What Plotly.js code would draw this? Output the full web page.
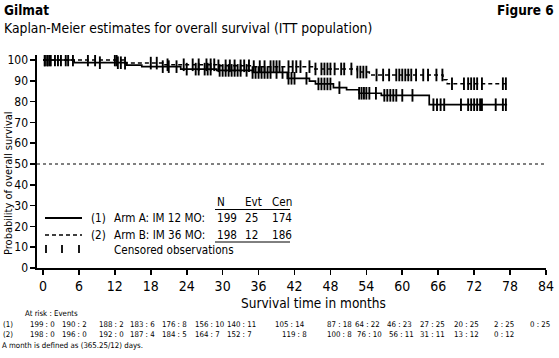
<!DOCTYPE html>
<html>
<head>
<meta charset="utf-8">
<script src="https://cdn.plot.ly/plotly-3.0.1.min.js"></script>
<style>
  html, body { margin: 0; padding: 0; background: #fff; }
  #chart { width: 559px; height: 358px; }
</style>
</head>
<body>
<div id="chart"></div>
<script>
// ---- Data ----
const armA_time = [0, 5.2, 14, 16.5, 23, 29, 35, 40.8, 44.5, 45.5, 48.5, 50.7, 52.8, 56.5, 64.5, 77.5];
const armA_surv = [100, 98.7, 97.5, 96.8, 95.6, 95, 94, 91.2, 89.8, 88.5, 86.7, 85.7, 84, 83, 78.5, 78.5];
const armB_time = [0, 13.5, 20, 29, 35, 45, 52.5, 54.5, 66.8, 67.5, 77.5];
const armB_surv = [100, 98.5, 97.7, 97.2, 96.8, 95.7, 94.2, 92.8, 90.5, 88.6, 88.6];

const armA_censor = [0.3, 0.7, 1.1, 2.5, 3.8, 5, 9.5, 12.5, 13, 20, 21, 22.3, 24, 25.5, 26, 27, 27.5, 28,
  29.5, 30, 30.5, 31, 31.5, 32, 32.5, 33, 34, 35, 35.5, 36, 36.5, 37, 37.5, 38, 39, 40, 41, 41.5, 42, 44,
  46, 46.5, 47, 47.5, 48, 49.5, 52.8, 53.2, 53.6, 54, 54.5, 55.6, 57, 57.5, 58, 58.5, 59, 60, 61.7,
  65.2, 65.8, 66.4, 67, 69.8, 71, 71.5, 72, 72.5, 73, 73.3, 75.6, 76.8, 77.3];
const armB_censor = [0.3, 0.8, 1.3, 2, 3, 4.2, 7.5, 8.7, 12, 12.3, 13.7, 18, 19, 20.8, 23.5, 25, 26, 27.3,
  28, 28.6, 29.3, 30.5, 31.2, 32, 33, 33.6, 34.4, 35.2, 36.2, 37, 38, 38.5, 39, 39.5, 41, 41.7, 42.3, 43,
  44.5, 45.5, 46.5, 47, 47.5, 48, 48.7, 49.8, 50.3, 51.5, 52.5, 53, 53.5, 54, 55.7, 56.8, 57.8, 59, 59.5,
  60, 60.5, 61, 61.5, 62.3, 63.5, 64.3, 65.7, 66.7, 68.3, 70.3, 71, 71.5, 72, 72.5, 73.3, 76.8, 77.3];

const xTicks = [0, 6, 12, 18, 24, 30, 36, 42, 48, 54, 60, 66, 72, 78, 84];
const yTicks = [0, 10, 20, 30, 40, 50, 60, 70, 80, 90, 100];
const refLine = 50;

const legendLabels = ["Arm A: IM 12 MO:", "Arm B: IM 36 MO:"];
const legendN = [199, 198];
const legendEvt = [25, 12];
const legendCen = [174, 186];

const atRiskA = [199, 190, 188, 183, 176, 156, 140, 105, 87, 64, 46, 27, 20, 2, 0];
const eventsA = [0, 2, 2, 6, 8, 10, 11, 14, 18, 22, 23, 25, 25, 25, 25];
const atRiskB = [198, 196, 192, 187, 184, 164, 152, 119, 100, 76, 56, 31, 13, 0];
const eventsB = [0, 0, 0, 4, 5, 7, 7, 8, 8, 10, 11, 11, 12, 12];

// ---- Layout helpers ----
const FONT = '"DejaVu Sans Condensed", "DejaVu Sans", sans-serif';
const W = 559, H = 358;
const M = { l: 37, r: 13, t: 55, b: 90 };
const PW = W - M.l - M.r, PH = H - M.t - M.b;
const px = x => (x - M.l) / PW;
const py = y => (M.t + PH - y) / PH;

function stepValue(times, surv, t) {
  let v = surv[0];
  for (let i = 0; i < times.length; i++) { if (times[i] <= t) v = surv[i]; }
  return v;
}

const censorMarker = { symbol: 'line-ns-open', size: 9, color: '#000', line: { color: '#000', width: 1.9 } };
const traces = [
  { x: armA_time, y: armA_surv, mode: 'lines', line: { shape: 'hv', color: '#000', width: 1.7 }, hoverinfo: 'skip' },
  { x: armB_time, y: armB_surv, mode: 'lines', line: { shape: 'hv', color: '#000', width: 1.5, dash: '4px,3px' }, hoverinfo: 'skip' },
  { x: armA_censor, y: armA_censor.map(t => stepValue(armA_time, armA_surv, t)), mode: 'markers', marker: censorMarker, hoverinfo: 'skip' },
  { x: armB_censor, y: armB_censor.map(t => stepValue(armB_time, armB_surv, t)), mode: 'markers', marker: censorMarker, hoverinfo: 'skip' }
];

const ann = [];
const shapes = [];
function text(x, y, t, size, opts) {
  ann.push(Object.assign({ xref: 'paper', yref: 'paper', x: px(x), y: py(y), text: t, showarrow: false,
    xanchor: 'left', yanchor: 'middle', font: { family: FONT, size: size, color: '#000' } }, opts || {}));
}

// Titles
text(2, 10, '<b>Gilmat</b>', 13.5);
text(556, 10, '<b>Figure 6</b>', 13.5, { xanchor: 'right' });
text(2, 28, 'Kaplan-Meier estimates for overall survival (ITT population)', 13.8);
// Axis titles
text(313, 303, 'Survival time in months', 13.5, { xanchor: 'center' });
text(8, 183, 'Probability of overall survival', 11, { xanchor: 'center', textangle: -90 });

// Reference line at 50%
shapes.push({ type: 'line', xref: 'paper', yref: 'y', x0: 0, x1: 1, y0: refLine, y1: refLine,
  line: { color: '#000', width: 1, dash: 'dot' } });

// Legend block
const LF = 11.6;
const legY = [218, 235];
shapes.push({ type: 'line', xref: 'paper', yref: 'paper', x0: px(45), x1: px(82), y0: py(legY[0]), y1: py(legY[0]), line: { color: '#000', width: 1.8 } });
shapes.push({ type: 'line', xref: 'paper', yref: 'paper', x0: px(45), x1: px(82), y0: py(legY[1]), y1: py(legY[1]), line: { color: '#000', width: 1.4, dash: '4px,3px' } });
[46, 62, 79].forEach(x => shapes.push({ type: 'line', xref: 'paper', yref: 'paper', x0: px(x), x1: px(x), y0: py(245), y1: py(253), line: { color: '#000', width: 1.8 } }));
text(215, 202, 'N', LF);
text(243, 202, 'Evt', LF);
text(270, 202, 'Cen', LF);
for (let i = 0; i < 2; i++) {
  text(89, legY[i], '(' + (i + 1) + ')', LF);
  text(112, legY[i], legendLabels[i], LF);
  text(215, legY[i], String(legendN[i]), LF);
  text(243, legY[i], String(legendEvt[i]), LF);
  text(270, legY[i], String(legendCen[i]), LF);
}
text(112, 250, 'Censored observations', LF);
shapes.push({ type: 'line', xref: 'paper', yref: 'paper', x0: px(215), x1: px(290), y0: py(209.5), y1: py(209.5), line: { color: '#000', width: 1 } });
shapes.push({ type: 'line', xref: 'paper', yref: 'paper', x0: px(215), x1: px(290), y0: py(242), y1: py(242), line: { color: '#000', width: 1 } });

// At-risk table
const TF = 7.8;
const colA = [28, 60, 97, 128, 160, 193, 225, 273, 325, 353, 385, 418, 452, 492, 528];
const colB = [28, 60, 97, 128, 160, 193, 225, 280, 325, 355, 387, 418, 452, 492];
text(23, 313, 'At risk : Events', TF);
text(1, 324, '(1)', TF);
text(1, 334.5, '(2)', TF);
atRiskA.forEach((n, i) => text(colA[i], 324, n + ' : ' + eventsA[i], TF));
atRiskB.forEach((n, i) => text(colB[i], 334.5, n + ' : ' + eventsB[i], TF));
text(0, 345.5, 'A month is defined as (365.25/12) days.', TF);

const layout = {
  width: W, height: H,
  margin: M,
  paper_bgcolor: '#fff', plot_bgcolor: '#fff',
  showlegend: false,
  font: { family: FONT, color: '#000' },
  xaxis: {
    range: [-1, 84], tickvals: xTicks, ticktext: xTicks.map(String),
    showgrid: false, zeroline: false, showline: true, linecolor: '#000', linewidth: 1.6,
    ticks: 'outside', ticklen: 5, tickwidth: 1.6, tickcolor: '#000',
    tickfont: { family: FONT, size: 14, color: '#000' }, fixedrange: true
  },
  yaxis: {
    range: [0, 102.4], tickvals: yTicks, ticktext: yTicks.map(String),
    showgrid: false, zeroline: false, showline: true, linecolor: '#000', linewidth: 1.6,
    ticks: 'outside', ticklen: 5, tickwidth: 1.6, tickcolor: '#000',
    tickfont: { family: FONT, size: 12, color: '#000' }, fixedrange: true
  },
  annotations: ann,
  shapes: shapes
};

Plotly.newPlot('chart', traces, layout, { displayModeBar: false, staticPlot: true });
</script>
</body>
</html>
